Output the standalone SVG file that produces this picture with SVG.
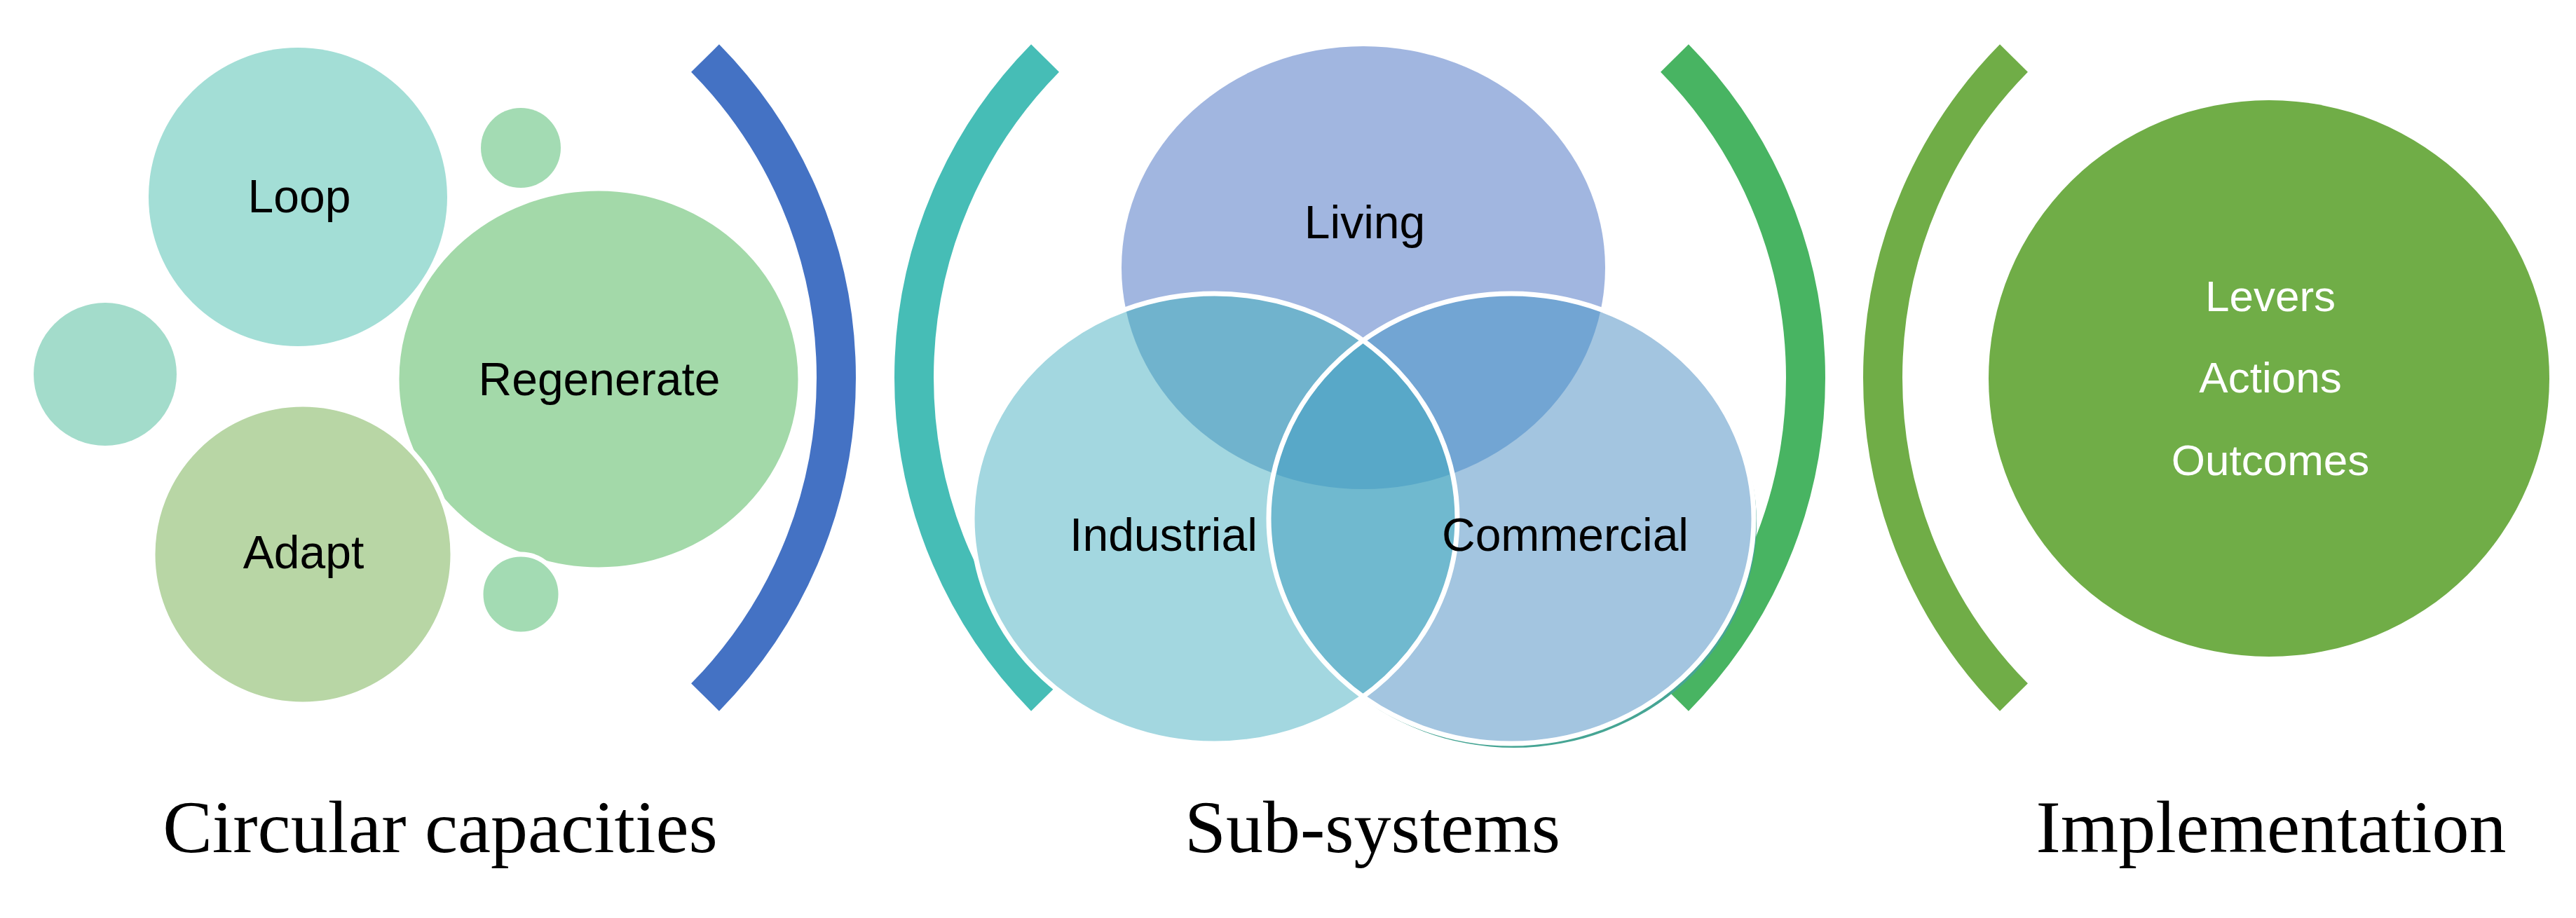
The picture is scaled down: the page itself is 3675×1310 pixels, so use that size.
<svg xmlns="http://www.w3.org/2000/svg" width="3675" height="1310" viewBox="0 0 3675 1310">
<style>
.lbl{font-family:"Liberation Sans",Arial,sans-serif;font-size:66px;fill:#000;text-anchor:middle}
.wl{font-family:"Liberation Sans",Arial,sans-serif;font-size:62px;fill:#fff;text-anchor:middle}
.cap{font-family:"Liberation Serif","Times New Roman",serif;font-size:106px;fill:#000;text-anchor:middle}
.br{fill:none;stroke-width:56}
.ws{stroke:#fff;stroke-width:7}
</style>
<defs>
<clipPath id="cL"><ellipse cx="1945" cy="382" rx="345" ry="316"/></clipPath>
<clipPath id="cI"><ellipse cx="1733" cy="740" rx="346" ry="321"/></clipPath>
<clipPath id="cC"><ellipse cx="2156" cy="740" rx="346" ry="321"/></clipPath>
</defs>
<rect width="3675" height="1310" fill="#fff"/>
<g id="connectors">
<path class="br" stroke="#4472c4" d="M1006 83 A649.5 649.5 0 0 1 1006 995"/>
<path class="br" stroke="#46bdb6" d="M1491 83 A649.5 649.5 0 0 0 1491 995"/>
<path class="br" stroke="#48b462" d="M2389 83 A649.5 649.5 0 0 1 2389 995"/>
<path class="br" stroke="#70ad47" d="M2873 83 A649.5 649.5 0 0 0 2873 995"/>
</g>
<g id="small-top"><circle cx="743" cy="211" r="57" fill="#a3dbb3"/></g>
<g id="small-left"><circle cx="150" cy="534" r="102" fill="#a3dccb"/></g>
<g id="loop"><circle cx="425" cy="281" r="213" fill="#a3ded6"/><text class="lbl" x="427" y="303">Loop</text></g>
<g id="regenerate"><ellipse class="ws" cx="854" cy="541" rx="288" ry="272" fill="#a3d9a9"/><text class="lbl" x="855" y="564">Regenerate</text></g>
<g id="adapt"><circle class="ws" cx="432" cy="791" r="214" fill="#b8d6a5"/><text class="lbl" x="433" y="811">Adapt</text></g>
<g id="small-bottom"><circle class="ws" cx="743" cy="848" r="57" fill="#a3dbb3"/></g>
<g id="venn">
<ellipse cx="2160" cy="746" rx="346" ry="321" fill="#46a594"/>
<ellipse cx="1945" cy="382" rx="345" ry="316" fill="#a1b6e0"/>
<ellipse cx="1733" cy="740" rx="346" ry="321" fill="#a3d7e0"/>
<ellipse cx="2156" cy="740" rx="346" ry="321" fill="#a3c5e0"/>
<ellipse cx="1733" cy="740" rx="346" ry="321" fill="#70b3cd" clip-path="url(#cL)"/>
<ellipse cx="2156" cy="740" rx="346" ry="321" fill="#72a5d3" clip-path="url(#cL)"/>
<ellipse cx="2156" cy="740" rx="346" ry="321" fill="#70b9cf" clip-path="url(#cI)"/>
<g clip-path="url(#cL)"><ellipse cx="2156" cy="740" rx="346" ry="321" fill="#58a8c8" clip-path="url(#cI)"/></g>
<ellipse class="ws" cx="1733" cy="740" rx="346" ry="321" fill="none"/>
<ellipse class="ws" cx="2156" cy="740" rx="346" ry="321" fill="none"/>
</g>
<g id="living"><text class="lbl" x="1947" y="340">Living</text></g>
<g id="industrial"><text class="lbl" x="1660" y="786">Industrial</text></g>
<g id="commercial"><text class="lbl" x="2233" y="786">Commercial</text></g>
<g id="implementation-node"><ellipse cx="3237" cy="540" rx="400" ry="397" fill="#70ad47"/>
<text class="wl" x="3239" y="444">Levers</text><text class="wl" x="3239" y="560">Actions</text><text class="wl" x="3239" y="678">Outcomes</text></g>
<g id="captions">
<text class="cap" x="628" y="1216">Circular capacities</text>
<text class="cap" x="1958" y="1216">Sub-systems</text>
<text class="cap" x="3240" y="1216">Implementation</text>
</g>
</svg>
